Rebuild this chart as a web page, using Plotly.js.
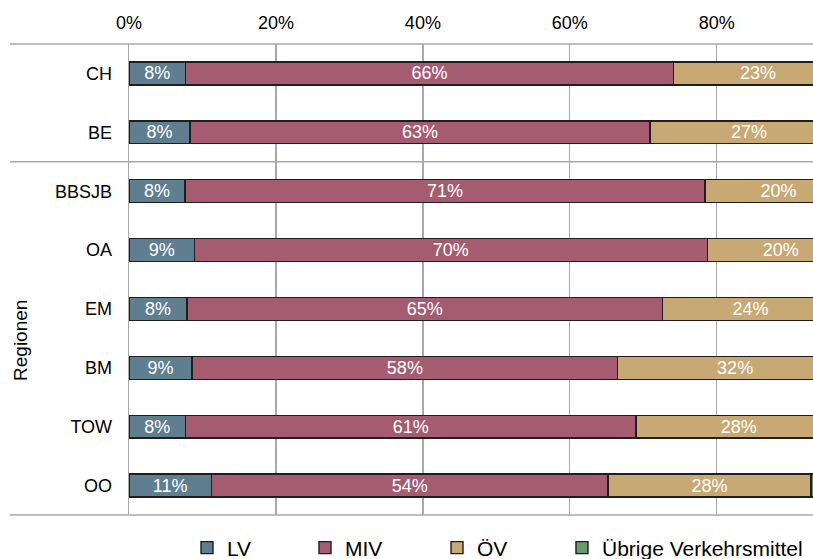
<!DOCTYPE html>
<html>
<head>
<meta charset="utf-8">
<script src="https://cdn.plot.ly/plotly-3.0.1.min.js"></script>
<style>html,body{margin:0;padding:0;background:#fff;}</style>
</head>
<body>
<div id="chart" style="width:813px;height:559px;"></div>
<script>
const regions = ["CH", "BE", "BBSJB", "OA", "EM", "BM", "TOW", "OO"];
const lv      = [7.7, 8.3, 7.6, 8.9, 7.9, 8.6, 7.7, 11.2];
const miv     = [66.4, 62.6, 70.8, 69.8, 64.7, 57.9, 61.3, 54.0];
const oev     = [23.0, 27.0, 20.0, 20.0, 24.0, 32.0, 28.0, 27.6];
const uebrige = [2.9, 2.1, 1.6, 1.3, 3.4, 1.5, 3.0, 7.2];
const seriesNames = ["LV", "MIV", "ÖV", "Übrige Verkehrsmittel"];
const seriesColors = ["#5f7e8f", "#a55c70", "#c8a873", "#6b9a71"];
const xTicks = [0, 20, 40, 60, 80];
const xTickText = ["0%", "20%", "40%", "60%", "80%"];

const FONT = "Liberation Sans, Arial, sans-serif";
const pct = v => Math.round(v) + "%";

const legendIds = ["legend", "legend2", "legend3", "legend4"];
const legendX = [0.0848, 0.2573, 0.4503, 0.6330];

const seriesValues = [lv, miv, oev, uebrige];
const traces = seriesValues.map((vals, i) => ({
  type: "bar",
  orientation: "h",
  name: seriesNames[i],
  legend: legendIds[i],
  y: regions,
  x: vals,
  text: i < 3 ? vals.map(pct) : vals.map(() => ""),
  textposition: "inside",
  insidetextanchor: "middle",
  constraintext: "none",
  textfont: {family: FONT, size: 18, color: "#ffffff"},
  marker: {color: seriesColors[i], line: {color: "#1e1e1e", width: 1.4}},
  hoverinfo: "name+x"
}));

const layout = {
  width: 813,
  height: 559,
  margin: {l: 129, r: 0, t: 44, b: 44, autoexpand: false},
  paper_bgcolor: "#ffffff",
  plot_bgcolor: "#ffffff",
  font: {family: FONT, size: 18, color: "#000000"},
  barmode: "stack",
  bargap: 0.61,
  showlegend: true,
  xaxis: {
    side: "top",
    range: [0, 93.1],
    tickmode: "array",
    tickvals: xTicks,
    ticktext: xTickText,
    showgrid: true,
    gridcolor: "#a8a8a8",
    gridwidth: 1.3,
    zeroline: false,
    showline: false,
    ticks: "",
    ticklabelstandoff: 10,
    tickfont: {family: FONT, size: 18, color: "#000000"},
    fixedrange: true
  },
  yaxis: {
    type: "category",
    autorange: false,
    range: [7.5, -0.5],
    showgrid: false,
    zeroline: false,
    showline: true,
    linecolor: "#a8a8a8",
    linewidth: 1.3,
    ticks: "",
    ticklabelstandoff: 12,
    tickfont: {family: FONT, size: 18, color: "#000000"},
    fixedrange: true
  },
  shapes: [
    {type: "line", xref: "paper", yref: "paper", x0: -0.174, x1: 1, y0: 1, y1: 1,
     line: {color: "#a8a8a8", width: 1.5}, layer: "below"},
    {type: "line", xref: "paper", yref: "y", x0: -0.174, x1: 1, y0: 1.5, y1: 1.5,
     line: {color: "#a8a8a8", width: 1.5}, layer: "below"},
    {type: "line", xref: "paper", yref: "paper", x0: -0.174, x1: 1, y0: 0, y1: 0,
     line: {color: "#a8a8a8", width: 1.5}, layer: "below"}
  ],
  annotations: [
    {text: "Regionen", xref: "paper", yref: "paper", x: -0.159, y: 0.37,
     xanchor: "center", yanchor: "middle", textangle: -90, showarrow: false,
     font: {family: FONT, size: 19, color: "#000000"}}
  ]
};

legendIds.forEach((id, i) => {
  layout[id] = {
    orientation: "h",
    x: legendX[i], xanchor: "left",
    y: -0.07, yanchor: "middle",
    bgcolor: "rgba(0,0,0,0)",
    font: {family: FONT, size: 21, color: "#000000"}
  };
});

Plotly.newPlot("chart", traces, layout, {displayModeBar: false, staticPlot: true});
</script>
</body>
</html>
